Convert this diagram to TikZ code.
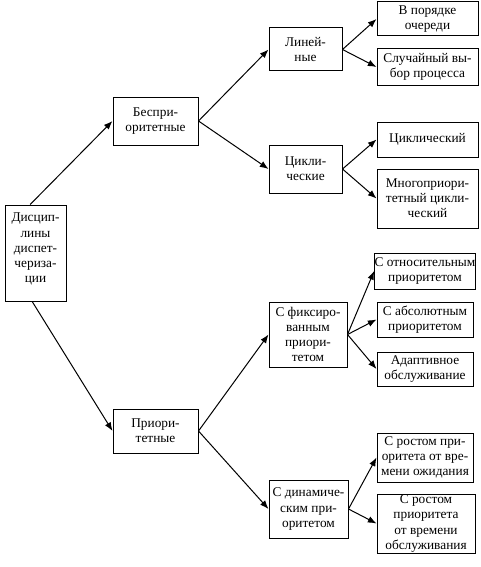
\documentclass[tikz,border=0pt]{standalone}
\usepackage{fontspec}
\setmainfont{Liberation Serif}
\usetikzlibrary{arrows.meta}
\newcommand\fs{\fontsize{10pt}{11.3pt}\selectfont}
\tikzset{
  bx/.style={draw, line width=0.75pt, inner sep=0pt, align=center, font=\fs},
  con/.style={line width=0.75pt, -{Latex[length=6.5pt,width=5pt]}}
}
\begin{document}
\begin{tikzpicture}[x=0.75pt,y=-0.75pt]
\useasboundingbox (0,0) rectangle (481,567);
\node[bx, minimum width=61*0.75pt, minimum height=96*0.75pt,
  label={[anchor=north, align=center, font=\fs, yshift=-3pt]north:Дисцип-\\лины\\диспет-\\чериза-\\ции}] (root) at (35.5,253) {};
\node[bx, minimum width=85*0.75pt, minimum height=48*0.75pt] (bp) at (155.5,121) {Беспри-\\оритетные};
\node[bx, minimum width=85*0.75pt, minimum height=44*0.75pt] (pr) at (155.5,431) {Приори-\\тетные};
\node[bx, minimum width=73*0.75pt, minimum height=43*0.75pt] (lin) at (305.5,49.5) {Линей-\\ные};
\node[bx, minimum width=73*0.75pt, minimum height=48*0.75pt] (cyc) at (305.5,169) {Цикли-\\ческие};
\node[bx, minimum width=78*0.75pt, minimum height=65*0.75pt] (fix) at (308,334.5) {С фиксиро-\\ванным\\приори-\\тетом};
\node[bx, minimum width=79*0.75pt, minimum height=58*0.75pt] (dyn) at (308.5,509) {С динамиче-\\ским при-\\оритетом};
\node[bx, minimum width=101*0.75pt, minimum height=34*0.75pt] (l1) at (427.5,19) {В порядке\\очереди};
\node[bx, minimum width=101*0.75pt, minimum height=36*0.75pt] (l2) at (427.5,67) {Случайный вы-\\бор процесса};
\node[bx, minimum width=101*0.75pt, minimum height=35*0.75pt] (c1) at (427.5,139.5) {Циклический};
\node[bx, minimum width=101*0.75pt, minimum height=59*0.75pt] (c2) at (427.5,198.5) {Многоприори-\\тетный цикли-\\ческий};
\node[bx, minimum width=96*0.75pt, minimum height=36*0.75pt] (f1) at (425,271) {С относительным\\приоритетом};
\node[bx, minimum width=96*0.75pt, minimum height=35*0.75pt] (f2) at (425,319.5) {С абсолютным\\приоритетом};
\node[bx, minimum width=96*0.75pt, minimum height=34*0.75pt] (f3) at (425,369) {Адаптивное\\обслуживание};
\node[bx, minimum width=96*0.75pt, minimum height=49*0.75pt] (d1) at (425,457.5) {С ростом при-\\оритета от вре-\\мени ожидания};
\node[bx, minimum width=98*0.75pt, minimum height=59*0.75pt] (d2) at (426,523.5) {С ростом\\приоритета\\от времени\\обслуживания};
\draw[con] ([xshift=-4pt]root.north) -- (bp.west);
\draw[con] ([xshift=-2.5pt]root.south) -- (pr.west);
\draw[con] (bp.east) -- (lin.west);
\draw[con] (bp.east) -- (cyc.west);
\draw[con] (lin.east) -- (l1.west);
\draw[con] (lin.east) -- (l2.west);
\draw[con] (cyc.east) -- (c1.west);
\draw[con] (cyc.east) -- (c2.west);
\draw[con] (pr.east) -- (fix.west);
\draw[con] (pr.east) -- (dyn.west);
\draw[con] (fix.east) -- (f1.west);
\draw[con] (fix.east) -- (f2.west);
\draw[con] (fix.east) -- (f3.west);
\draw[con] (dyn.east) -- (d1.west);
\draw[con] (dyn.east) -- (d2.west);
\end{tikzpicture}
\end{document}
